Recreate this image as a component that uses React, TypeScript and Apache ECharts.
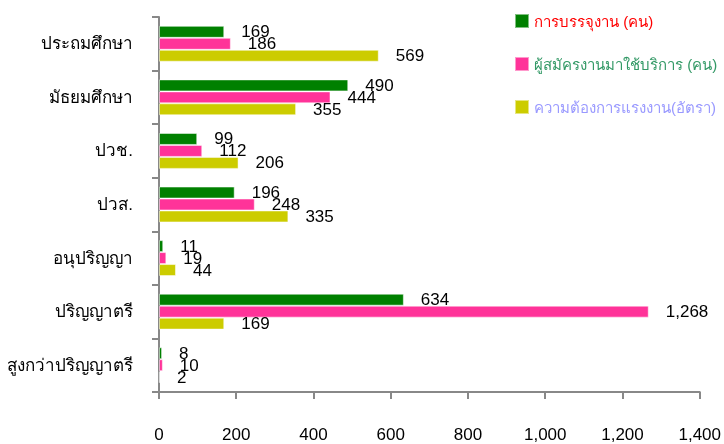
import React, { useEffect, useRef } from "react";
import * as echarts from "echarts";

const categories = ["ประถมศึกษา", "มัธยมศึกษา", "ปวช.", "ปวส.", "อนุปริญญา", "ปริญญาตรี", "สูงกว่าปริญญาตรี"];
const placed = [169, 490, 99, 196, 11, 634, 8];
const applicants = [186, 444, 112, 248, 19, 1268, 10];
const demand = [569, 355, 206, 335, 44, 169, 2];
const seriesNames = ["การบรรจุงาน (คน)", "ผู้สมัครงานมาใช้บริการ (คน)", "ความต้องการแรงงาน(อัตรา)"];
const seriesColors = ["#008000", "#ff3399", "#cccc00"];
const legendTextColors = ["#ff0000", "#339966", "#9999ff"];

const FONT = "Tahoma, 'Liberation Sans', 'DejaVu Sans', sans-serif";

export default function App() {
  const ref = useRef<HTMLDivElement>(null);
  useEffect(() => {
    if (!ref.current) return;
    const chart = echarts.init(ref.current, null, { renderer: "svg" });
    const values = [placed, applicants, demand];
    chart.setOption({
      animation: false,
      textStyle: { fontFamily: FONT },
      grid: { left: 159, right: 21, top: 17, bottom: 52, containLabel: false },
      legend: {
        orient: "vertical",
        left: 514,
        top: 13,
        padding: 0,
        itemWidth: 14,
        itemHeight: 14,
        itemGap: 27,
        icon: "rect",
        data: seriesNames.map((n, i) => ({ name: n, textStyle: { color: legendTextColors[i] } })),
        textStyle: { fontSize: 15, fontFamily: FONT },
      },
      xAxis: {
        type: "value",
        min: 0,
        max: 1400,
        interval: 200,
        axisLine: { show: true, lineStyle: { color: "#888888", width: 2 } },
        axisTick: { show: true, length: 7, lineStyle: { color: "#888888", width: 2 } },
        splitLine: { show: false },
        axisLabel: {
          color: "#000",
          fontSize: 17,
          margin: 34,
          fontFamily: FONT,
          formatter: (v: number) => v.toLocaleString("en-US"),
        },
      },
      yAxis: {
        type: "category",
        inverse: true,
        data: categories,
        axisLine: { show: true, lineStyle: { color: "#888888", width: 2 } },
        axisTick: { show: true, length: 7, lineStyle: { color: "#888888", width: 2 } },
        axisLabel: { color: "#000", fontSize: 17, margin: 26, fontFamily: FONT },
      },
      series: seriesNames.map((n, i) => ({
        name: n,
        type: "bar",
        data: values[i],
        barGap: "0%",
        barCategoryGap: "33%",
        itemStyle: { color: seriesColors[i], borderColor: "rgba(255,255,255,0.5)", borderWidth: 1 },
        label: {
          show: true,
          position: "right",
          distance: 17,
          color: "#000",
          fontSize: 17,
          fontFamily: FONT,
          formatter: (p: any) => Number(p.value).toLocaleString("en-US"),
        },
      })),
    });
    return () => chart.dispose();
  }, []);
  return <div ref={ref} style={{ position: "fixed", left: 0, top: 0, width: 724, height: 444 }} />;
}
